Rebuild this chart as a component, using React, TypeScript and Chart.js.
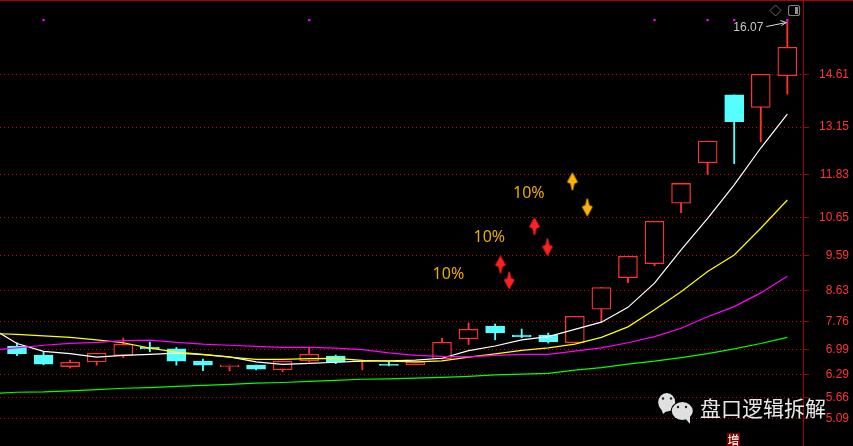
import React, { useEffect, useRef } from "react";
import { Chart, registerables } from "chart.js";

Chart.register(...registerables);

const yTicks = [14.61, 13.15, 11.83, 10.65, 9.59, 8.63, 7.76, 6.99, 6.29, 5.66, 5.09];
const opens = [7.09, 6.84, 6.52, 6.65, 6.83, 7.05, 7.01, 6.67, 6.52, 6.56, 6.43, 6.68, 6.81, 6.67, 6.58, 6.57, 6.73, 7.29, 7.64, 7.39, 7.39, 7.18, 8.11, 8.98, 9.37, 11.04, 12.16, 14.04, 13.69, 14.57];
const closes = [6.87, 6.59, 6.64, 6.89, 7.14, 7.01, 6.67, 6.56, 6.56, 6.45, 6.67, 6.86, 6.64, 6.70, 6.55, 6.65, 7.19, 7.55, 7.45, 7.35, 7.20, 7.91, 8.71, 9.57, 10.54, 11.59, 12.76, 13.30, 14.61, 15.36];
const highs = [7.18, 6.93, 6.70, 6.89, 7.31, 7.20, 7.05, 6.73, 6.56, 6.56, 6.67, 7.04, 6.84, 6.70, 6.65, 6.65, 7.31, 7.73, 7.70, 7.56, 7.45, 7.91, 8.71, 9.57, 10.54, 11.59, 12.76, 14.04, 14.61, 16.07];
const lows = [6.82, 6.57, 6.48, 6.56, 6.77, 6.93, 6.56, 6.41, 6.40, 6.43, 6.38, 6.65, 6.60, 6.43, 6.54, 6.57, 6.73, 7.13, 7.26, 7.32, 7.17, 7.18, 7.76, 8.84, 9.31, 10.78, 11.84, 12.14, 12.74, 14.06];

// first value of each line sits one slot left of the first candle
const whiteLine = [7.6, 7.16, 6.94, 6.88, 6.78, 6.83, 6.86, 6.89, 6.85, 6.79, 6.65, 6.58, 6.61, 6.64, 6.67, 6.68, 6.70, 6.75, 6.96, 7.09, 7.26, 7.35, 7.55, 7.75, 8.16, 8.83, 9.75, 10.62, 11.55, 12.57, 13.51];
const yellowLine = [7.44, 7.41, 7.37, 7.33, 7.26, 7.18, 7.03, 6.92, 6.86, 6.78, 6.72, 6.72, 6.74, 6.75, 6.69, 6.67, 6.65, 6.68, 6.78, 6.87, 6.97, 7.04, 7.14, 7.33, 7.62, 8.09, 8.59, 9.15, 9.61, 10.35, 11.13];
const magentaLine = [6.97, 7.04, 7.11, 7.16, 7.19, 7.24, 7.25, 7.19, 7.14, 7.11, 7.08, 7.05, 7.05, 7.03, 6.99, 6.90, 6.83, 6.80, 6.79, 6.83, 6.86, 6.86, 6.95, 7.04, 7.18, 7.35, 7.58, 7.90, 8.18, 8.56, 9.02];
const greenLine = [5.77, 5.81, 5.82, 5.85, 5.88, 5.92, 5.94, 5.97, 6.00, 6.03, 6.06, 6.08, 6.11, 6.14, 6.17, 6.18, 6.20, 6.22, 6.25, 6.29, 6.31, 6.33, 6.42, 6.49, 6.59, 6.67, 6.77, 6.88, 7.01, 7.16, 7.33];

const arrowX = [18.2, 18.53, 19.48, 19.97, 20.91, 21.47];
const arrowY = [9.35, 8.9, 10.41, 9.82, 11.65, 10.92];
const arrowUp = [true, false, true, false, true, false];
const arrowColor = ["#ff2020", "#ff2020", "#ff2020", "#ff2020", "#ffb400", "#ffb400"];

const pctLabel = "10%";
const pctX = [16.24, 17.78, 19.27];
const pctY = [9.08, 10.1, 11.3];

const dotX = [1, 11, 24, 26, 27, 29];
const dotY = [16.11, 16.11, 16.11, 16.11, 16.11, 16.11];

const peakIndex = 29;
const peakValue = 16.07;
const logoText = "盘口逻辑拆解";
const bottomTag = "增";

const RED = "#ff3232";
const CYAN = "#55ffff";

function makeArrow(color: string, up: boolean) {
  const c = document.createElement("canvas");
  c.width = 14;
  c.height = 20;
  const g = c.getContext("2d")!;
  g.translate(7, 10);
  if (!up) g.scale(1, -1);
  g.fillStyle = color;
  g.beginPath();
  g.moveTo(0, -9);
  g.lineTo(5.5, 1);
  g.lineTo(2, 2.5);
  g.lineTo(0.6, 9);
  g.lineTo(-0.6, 9);
  g.lineTo(-2, 2.5);
  g.lineTo(-5.5, 1);
  g.closePath();
  g.fill();
  return c;
}

const overlay = {
  id: "overlay",
  beforeDraw(chart: any) {
    const { ctx, width, height } = chart;
    ctx.save();
    ctx.fillStyle = "#000";
    ctx.fillRect(0, 0, width, height);
    ctx.fillStyle = "#b00000";
    ctx.fillRect(0, 0, width, 1);
    ctx.restore();
  },
  afterDraw(chart: any) {
    const { ctx } = chart;
    const xs = chart.scales.x;
    const ys = chart.scales.y;
    ctx.save();
    ctx.textBaseline = "middle";
    ctx.textAlign = "center";
    ctx.font = '16px "Noto Sans"';
    ctx.fillStyle = "#e8ac00";
    pctX.forEach((x, i) => ctx.fillText(pctLabel, xs.getPixelForValue(x), ys.getPixelForValue(pctY[i])));

    // peak label and arrow
    const px = xs.getPixelForValue(peakIndex);
    const py = ys.getPixelForValue(peakValue);
    ctx.font = '12px "Liberation Sans"';
    ctx.textAlign = "right";
    ctx.fillStyle = "#c8c8c8";
    ctx.fillText(peakValue.toFixed(2), px - 24, py + 6);
    ctx.strokeStyle = "#d8d8d8";
    ctx.lineWidth = 1;
    ctx.beginPath();
    ctx.moveTo(px - 21, py + 5);
    ctx.lineTo(px - 1, py + 1);
    ctx.moveTo(px - 7, py - 1);
    ctx.lineTo(px - 1, py + 1);
    ctx.lineTo(px - 6, py + 4);
    ctx.stroke();

    // window icons
    ctx.strokeStyle = "#6a6a6a";
    ctx.beginPath();
    ctx.moveTo(775.5, 5);
    ctx.lineTo(781, 10.5);
    ctx.lineTo(775.5, 16);
    ctx.lineTo(770, 10.5);
    ctx.closePath();
    ctx.stroke();
    ctx.strokeStyle = "#808080";
    ctx.lineWidth = 1.2;
    ctx.beginPath();
    ctx.roundRect(788.5, 5.5, 11, 10, 2);
    ctx.stroke();
    ctx.fillStyle = "#909090";
    ctx.fillRect(795, 7, 3, 7);

    // watermark
    ctx.fillStyle = "#e0e0e0";
    ctx.beginPath();
    ctx.ellipse(666.7, 402.3, 8.5, 9.3, 0, 0, Math.PI * 2);
    ctx.fill();
    ctx.beginPath();
    ctx.moveTo(661, 408);
    ctx.lineTo(663, 414);
    ctx.lineTo(668, 410);
    ctx.fill();
    ctx.fillStyle = "#000";
    ctx.beginPath();
    ctx.ellipse(682.3, 411, 11.5, 10, 0, 0, Math.PI * 2);
    ctx.fill();
    ctx.fillStyle = "#e0e0e0";
    ctx.beginPath();
    ctx.ellipse(682.3, 411, 10.5, 9, 0, 0, Math.PI * 2);
    ctx.fill();
    ctx.beginPath();
    ctx.moveTo(685, 418);
    ctx.lineTo(690, 424);
    ctx.lineTo(690, 416);
    ctx.fill();
    ctx.fillStyle = "#222";
    [[663, 398.5], [671, 398.5], [678, 407], [686, 407]].forEach(([x, y]) => {
      ctx.beginPath();
      ctx.arc(x, y, 1.2, 0, Math.PI * 2);
      ctx.fill();
    });
    ctx.textAlign = "left";
    ctx.font = '21px "Noto Sans CJK SC"';
    ctx.fillStyle = "#e8e8e8";
    ctx.fillText(logoText, 700, 408);

    // bottom tag
    ctx.fillStyle = "#7a0000";
    ctx.fillRect(727, 433, 13, 13);
    ctx.fillStyle = "#fff";
    ctx.textAlign = "center";
    ctx.font = '12px "Noto Sans CJK SC"';
    ctx.fillText(bottomTag, 733.5, 440);
    ctx.restore();
  },
};

export default function App() {
  const ref = useRef<HTMLCanvasElement>(null);
  useEffect(() => {
    document.body.style.margin = "0";
    document.body.style.background = "#000";
    const indices = opens.map((_, i) => i);
    const candleColor = indices.map((i) => (closes[i] >= opens[i] ? RED : CYAN));
    const lineData = (vals: number[]) => vals.map((y, i) => ({ x: i - 1, y }));
    const lineSet = (vals: number[], color: string) => ({
      type: "line" as const,
      data: lineData(vals),
      borderColor: color,
      borderWidth: 1.2,
      pointRadius: 0,
      tension: 0,
      order: 1,
    });
    const chart = new Chart(ref.current!, {
      type: "bar",
      data: {
        datasets: [
          {
            data: indices.map((i) => ({ x: i, y: [lows[i], highs[i]] })),
            backgroundColor: candleColor,
            barThickness: 1.2,
            grouped: false,
            order: 4,
          },
          {
            data: indices.map((i) => ({ x: i, y: [opens[i], closes[i]] })),
            backgroundColor: indices.map((i) => (closes[i] >= opens[i] ? "#000" : CYAN)),
            borderColor: candleColor,
            borderWidth: 1.3,
            borderSkipped: false,
            barThickness: 19,
            grouped: false,
            order: 3,
          },
          lineSet(greenLine, "#00ff00"),
          lineSet(magentaLine, "#ff00ff"),
          lineSet(yellowLine, "#ffff00"),
          lineSet(whiteLine, "#ffffff"),
          {
            type: "scatter",
            data: arrowX.map((x, i) => ({ x, y: arrowY[i] })),
            pointStyle: arrowX.map((_, i) => makeArrow(arrowColor[i], arrowUp[i])),
            order: 0,
          },
          {
            type: "scatter",
            data: dotX.map((x, i) => ({ x, y: dotY[i] })),
            pointStyle: "rect",
            pointRadius: 1.6,
            borderWidth: 0,
            backgroundColor: "#ff00ff",
            order: 0,
          },
        ] as any,
      },
      options: {
        responsive: false,
        devicePixelRatio: 1,
        animation: false,
        layout: { autoPadding: false, padding: { top: 1, right: 4, left: 0, bottom: 0 } },
        plugins: { legend: { display: false }, tooltip: { enabled: false } },
        scales: {
          x: {
            type: "linear",
            display: false,
            offset: false,
            min: -0.64,
            max: 29.59,
            grid: { display: false },
          },
          y: {
            type: "linear",
            position: "right",
            min: 4.322,
            max: 16.639,
            afterBuildTicks: (s: any) => {
              s.ticks = yTicks.map((value) => ({ value }));
            },
            afterFit: (s: any) => {
              s.width = 46;
              s.paddingTop = 0;
              s.paddingBottom = 0;
            },
            border: { display: true, color: "#a00000", width: 1, dash: [1, 3] },
            grid: {
              color: "#d00000",
              lineWidth: 1,
              tickLength: 6,
              tickColor: "#a00000",
              tickBorderDash: [],
              drawTicks: true,
            },
            ticks: {
              autoSkip: false,
              color: RED,
              crossAlign: "far",
              padding: 2,
              font: { family: '"Liberation Sans"', size: 12 },
              callback: (v: any) => Number(v).toFixed(2),
            },
          },
        },
      } as any,
      plugins: [overlay],
    });
    return () => chart.destroy();
  }, []);
  return <canvas ref={ref} width={853} height={446} style={{ display: "block", position: "absolute", left: 0, top: 0 }} />;
}
